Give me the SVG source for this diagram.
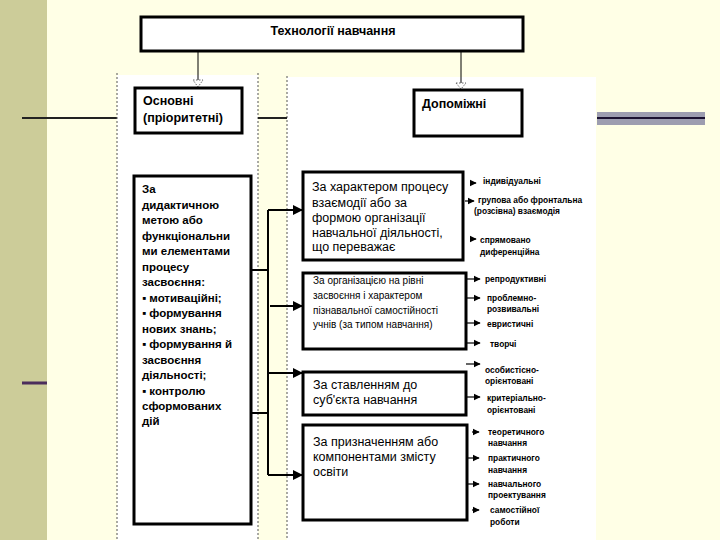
<svg xmlns="http://www.w3.org/2000/svg" width="720" height="540" viewBox="0 0 720 540">
<defs>
<style>
.box{fill:#fff;stroke:#000;stroke-width:3}
.t{font-family:"Liberation Sans",Arial,sans-serif;fill:#000}
.b{font-weight:bold}
.c{stroke:#000;stroke-width:2;fill:none}
.s{stroke:#000;stroke-width:1.2;fill:none}
.dot{stroke:#555;stroke-width:1;stroke-dasharray:2 2;fill:none}
.r{font-family:"Liberation Sans",Arial,sans-serif;font-size:8.4px;font-weight:bold;fill:#000}
</style>
<marker id="ah" viewBox="0 0 10 10" refX="9" refY="5" markerWidth="5" markerHeight="5" orient="auto"><path d="M0,0L10,5L0,10z" fill="#000"/></marker>
<marker id="hs" viewBox="0 0 10 10" refX="9" refY="5" markerWidth="6" markerHeight="6" orient="auto"><path d="M0,0L10,5L0,10z" fill="#000"/></marker>
</defs>
<rect x="0" y="0" width="720" height="540" fill="#FFFFE6"/>
<rect x="0" y="0" width="47" height="540" fill="#CCCC99"/>
<line x1="22" y1="118" x2="117" y2="118" stroke="#222" stroke-width="2"/>
<line x1="22" y1="383" x2="47" y2="383" stroke="#4B2D5C" stroke-width="3"/>
<rect x="117" y="75" width="141" height="465" fill="#fff"/>
<rect x="287" y="77" width="309" height="463" fill="#fff"/>
<line x1="117" y1="73" x2="117" y2="540" class="dot"/>
<line x1="258" y1="73" x2="258" y2="540" class="dot"/>
<line x1="287" y1="76" x2="287" y2="540" class="dot"/>
<line x1="258" y1="118" x2="287" y2="118" stroke="#222" stroke-width="2"/>
<rect x="597" y="112" width="108" height="13" fill="#9D9DB0"/>
<line x1="597" y1="118" x2="705" y2="118" stroke="#1a1030" stroke-width="2"/>

<g id="connectors">
<line x1="198" y1="51" x2="198" y2="80" stroke="#000" stroke-width="1"/>
<path d="M193,80L203,80L198,87z" fill="#fff" stroke="#666" stroke-width="1" stroke-dasharray="1.5 1.5"/>
<line x1="461" y1="51" x2="461" y2="83" stroke="#000" stroke-width="1"/>
<path d="M456,83L466,83L461,89z" fill="#fff" stroke="#666" stroke-width="1" stroke-dasharray="1.5 1.5"/>
<line x1="252" y1="270" x2="268" y2="270" class="c"/>
<line x1="252" y1="413" x2="268" y2="413" class="c"/>
<line x1="268" y1="210" x2="268" y2="475" class="c"/>
<line x1="268" y1="210" x2="302" y2="210" class="c" marker-end="url(#ah)"/>
<line x1="270" y1="306" x2="302" y2="306" class="c" marker-end="url(#ah)"/>
<line x1="268" y1="373" x2="302" y2="373" class="c" marker-end="url(#ah)"/>
<line x1="268" y1="475" x2="302" y2="475" class="c" marker-end="url(#ah)"/>
<line x1="470" y1="183" x2="476" y2="183" class="s" marker-end="url(#hs)"/>
<line x1="465" y1="201" x2="474" y2="201" class="s" marker-end="url(#hs)"/>
<line x1="470" y1="239" x2="476" y2="239" class="s" marker-end="url(#hs)"/>
<line x1="466" y1="279" x2="480" y2="279" class="s" marker-end="url(#hs)"/>
<line x1="466" y1="298" x2="480" y2="298" class="s" marker-end="url(#hs)"/>
<line x1="466" y1="323" x2="480" y2="323" class="s" marker-end="url(#hs)"/>
<line x1="466" y1="343" x2="480" y2="343" class="s" marker-end="url(#hs)"/>
<line x1="466" y1="364" x2="480" y2="364" class="s" marker-end="url(#hs)"/>
<line x1="466" y1="397" x2="480" y2="397" class="s" marker-end="url(#hs)"/>
<line x1="472" y1="432" x2="479" y2="432" class="s" marker-end="url(#hs)"/>
<line x1="466" y1="458" x2="479" y2="458" class="s" marker-end="url(#hs)"/>
<line x1="466" y1="484" x2="479" y2="484" class="s" marker-end="url(#hs)"/>
<line x1="472" y1="510" x2="479" y2="510" class="s" marker-end="url(#hs)"/>
</g>

<g id="top">
<rect x="141" y="17" width="382" height="34" class="box" stroke-width="2.5"/>
<text x="333" y="35" class="t b" font-size="12.5" text-anchor="middle">Технології навчання</text>
</g>
<g id="osnovni">
<rect x="135" y="88" width="107" height="45" class="box"/>
<text x="143" y="105" class="t b" font-size="12.5">Основні</text>
<text x="143" y="122" class="t b" font-size="12.5">(пріоритетні)</text>
</g>
<g id="dopomizhni">
<rect x="414" y="90" width="108" height="46" class="box"/>
<text x="422" y="108" class="t b" font-size="12.5">Допоміжні</text>
</g>
<g id="left-box">
<rect x="134" y="176" width="117" height="348" class="box"/>
<g class="t b" font-size="11.5">
<text x="142" y="193">За</text>
<text x="142" y="209">дидактичною</text>
<text x="142" y="224">метою або</text>
<text x="142" y="240">функціональни</text>
<text x="142" y="255">ми елементами</text>
<text x="142" y="271">процесу</text>
<text x="142" y="286">засвоєння:</text>
<text x="142" y="302">▪ мотиваційні;</text>
<text x="142" y="317">▪ формування</text>
<text x="142" y="333">нових знань;</text>
<text x="142" y="348">▪ формування й</text>
<text x="142" y="364">засвоєння</text>
<text x="142" y="379">діяльності;</text>
<text x="142" y="395">▪ контролю</text>
<text x="142" y="410">сформованих</text>
<text x="142" y="425">дій</text>
</g>
</g>
<g id="box-a">
<rect x="303" y="172" width="160" height="88" class="box"/>
<g class="t" font-size="12.5">
<text x="312" y="191">За характером процесу</text>
<text x="312" y="207">взаємодії або за</text>
<text x="312" y="222">формою організації</text>
<text x="312" y="237">навчальної діяльності,</text>
<text x="312" y="251">що переважає</text>
</g>
</g>
<g id="box-b">
<rect x="303" y="273" width="163" height="76" class="box"/>
<g class="t" font-size="10">
<text x="313" y="284">За організацією на рівні</text>
<text x="313" y="299">засвоєння і характером</text>
<text x="313" y="314">пізнавальної самостійності</text>
<text x="313" y="328">учнів (за типом навчання)</text>
</g>
</g>
<g id="box-c">
<rect x="303" y="372" width="163" height="43" class="box"/>
<g class="t" font-size="12.5">
<text x="313" y="389">За ставленням до</text>
<text x="313" y="404">суб'єкта навчання</text>
</g>
</g>
<g id="box-d">
<rect x="303" y="425" width="164" height="95" class="box"/>
<g class="t" font-size="12.5">
<text x="313" y="446">За призначенням або</text>
<text x="313" y="461">компонентами змісту</text>
<text x="313" y="476">освіти</text>
</g>
</g>
<g id="labels-right">
<text x="483" y="184" class="r">індивідуальні</text>
<text x="478" y="203" class="r">групова або фронтальна</text>
<text x="474" y="214" class="r">(розсівна) взаємодія</text>
<text x="480" y="243" class="r">спрямовано</text>
<text x="480" y="255" class="r">диференційна</text>
<text x="485" y="282" class="r">репродуктивні</text>
<text x="487" y="301" class="r">проблемно-</text>
<text x="487" y="312" class="r">розвивальні</text>
<text x="487" y="327" class="r">евристичні</text>
<text x="490" y="347" class="r">творчі</text>
<text x="485" y="373" class="r">особистісно-</text>
<text x="485" y="384" class="r">орієнтовані</text>
<text x="487" y="401" class="r">критеріально-</text>
<text x="487" y="413" class="r">орієнтовані</text>
<text x="488" y="435" class="r">теоретичного</text>
<text x="488" y="446" class="r">навчання</text>
<text x="488" y="461" class="r">практичного</text>
<text x="488" y="473" class="r">навчання</text>
<text x="488" y="487" class="r">навчального</text>
<text x="488" y="498" class="r">проектування</text>
<text x="490" y="513" class="r">самостійної</text>
<text x="490" y="525" class="r">роботи</text>
</g>
</svg>
